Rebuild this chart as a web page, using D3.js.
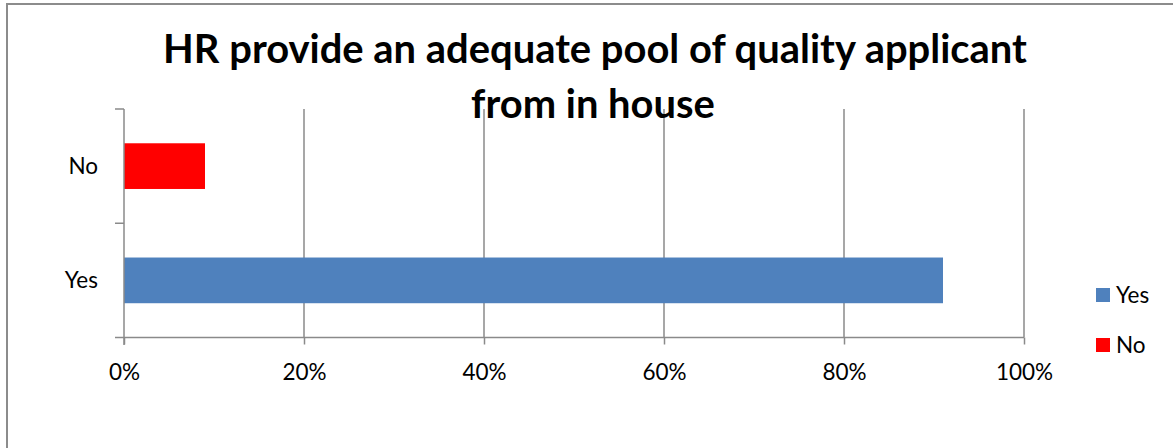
<!DOCTYPE html>
<html><head><meta charset="utf-8">
<script src="https://cdn.jsdelivr.net/npm/d3@7"></script>
<style>html,body{margin:0;padding:0;background:#fff;}svg{display:block;}</style>
</head><body>
<script>
const categories = ["No", "Yes"];
const values = [0.09, 0.91];
const colors = ["#FF0000", "#4F81BD"];
const tickValues = [0, 0.2, 0.4, 0.6, 0.8, 1.0];
const legendLabels = ["Yes", "No"];
const legendColors = ["#4F81BD", "#FF0000"];
const titleLines = ["HR provide an adequate pool of quality applicant", "from in house"];

const W = 1173, H = 448;
const font = "Lato, 'Open Sans', sans-serif";
const labelSize = 22.5;
const svg = d3.select("body").append("svg").attr("width", W).attr("height", H);
svg.append("rect").attr("width", W).attr("height", H).attr("fill", "#fff");
// outer border (top and left visible)
svg.append("path").attr("d", `M7,${H+2} L7,4 L${W+2},4`).attr("fill", "none").attr("stroke", "#8c8c8c").attr("stroke-width", 2);

const x = d3.scaleLinear().domain([0, 1]).range([124, 1024]);
const y = d3.scaleBand().domain(categories).range([109, 337.5]).paddingInner(0.6).paddingOuter(0.3);

// gridlines
svg.append("g").selectAll("line").data(tickValues.slice(1)).join("line")
  .attr("x1", d => x(d)).attr("x2", d => x(d)).attr("y1", 109).attr("y2", 337.5)
  .attr("stroke", "#8a8a8a").attr("stroke-width", 1.5);

// bars
svg.append("g").selectAll("rect").data(categories).join("rect")
  .attr("x", x(0)).attr("y", d => y(d))
  .attr("width", (d, i) => x(values[i]) - x(0)).attr("height", y.bandwidth())
  .attr("fill", (d, i) => colors[i]);

// x axis
const xAxis = svg.append("g").attr("transform", "translate(0,337.5)")
  .call(d3.axisBottom(x).tickValues(tickValues).tickFormat(d3.format(".0%")).tickSize(7));
xAxis.select(".domain").attr("stroke", "#8a8a8a").attr("stroke-width", 1.5).attr("d", `M${x(0)-9},0H${x(1)}`);
xAxis.selectAll(".tick line").attr("stroke", "#8a8a8a").attr("stroke-width", 1.5);
xAxis.selectAll("text").attr("font-family", font).attr("font-size", labelSize).attr("fill", "#000")
  .attr("y", 42.5).attr("dy", 0);

// y axis
const yPos = d3.scaleLinear().domain([0, categories.length]).range([109, 337.5]);
const yAxisG = svg.append("g").attr("transform", `translate(${x(0)},0)`);
yAxisG.append("line").attr("x1", 0).attr("x2", 0).attr("y1", 109).attr("y2", 345)
  .attr("stroke", "#8a8a8a").attr("stroke-width", 1.5);
yAxisG.selectAll(".yt").data(d3.range(categories.length)).join("line").attr("class", "yt")
  .attr("x1", -9).attr("x2", 0).attr("y1", d => yPos(d)).attr("y2", d => yPos(d))
  .attr("stroke", "#8a8a8a").attr("stroke-width", 1.5);
yAxisG.selectAll("text").data(categories).join("text")
  .attr("x", -26).attr("y", d => y(d) + y.bandwidth() / 2 + 8)
  .attr("text-anchor", "end").attr("font-family", font).attr("font-size", labelSize).attr("fill", "#000")
  .text(d => d);

// legend
const leg = svg.append("g");
legendLabels.forEach((l, i) => {
  const yy = 288 + i * 50;
  leg.append("rect").attr("x", 1096).attr("y", yy).attr("width", 14).attr("height", 14).attr("fill", legendColors[i]);
  leg.append("text").attr("x", 1116).attr("y", yy + 15).attr("font-family", font).attr("font-size", labelSize).attr("fill", "#000").text(l);
});

// title
const t1 = svg.append("text").attr("x", 595).attr("y", 63).attr("text-anchor", "middle")
  .attr("font-family", font).attr("font-weight", "bold").attr("font-size", 36).attr("fill", "#000").text(titleLines[0]);
const w1 = t1.node().getComputedTextLength();
const fs = 36 * 864 / w1;
t1.attr("font-size", fs);
svg.append("text").attr("x", 593).attr("y", 118).attr("text-anchor", "middle")
  .attr("font-family", font).attr("font-weight", "bold").attr("font-size", fs).attr("fill", "#000").text(titleLines[1]);
</script>
</body></html>
